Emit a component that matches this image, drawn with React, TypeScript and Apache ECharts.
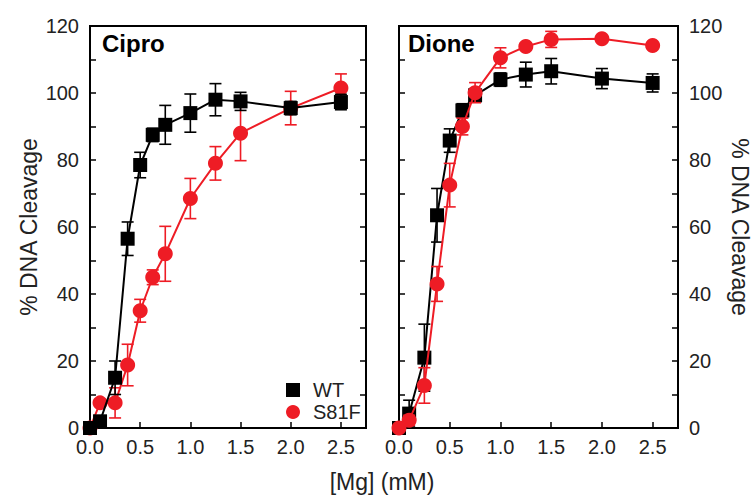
import React, { useEffect, useRef } from 'react';
import * as echarts from 'echarts';

const mgConc = [0, 0.1, 0.25, 0.375, 0.5, 0.625, 0.75, 1.0, 1.25, 1.5, 2.0, 2.5];

const ciproWT = [0, 2, 15, 56.5, 78.5, 87.5, 90.5, 94, 98, 97.5, 95.5, 97.3];
const ciproWTErr = [0, 1.5, 5, 5, 3.8, 2, 5.8, 5.7, 4.8, 2.7, 2, 2.3];
const ciproS81F = [0, 7.5, 7.5, 18.8, 35, 45, 52, 68.5, 79, 88, 95.5, 101.5];
const ciproS81FErr = [0, 1, 4.5, 6.2, 3.4, 2.2, 8.2, 6, 5, 8.2, 5, 4.2];

const dioneWT = [0, 4.3, 21, 63.5, 85.8, 94.8, 99.3, 104, 105.5, 106.5, 104.3, 103];
const dioneWTErr = [0, 4, 10, 8, 3.5, 2, 2, 2, 3.7, 3.8, 3, 2.7];
const dioneS81F = [0, 2.3, 12.7, 43, 72.5, 90, 100.1, 110.5, 113.9, 116, 116.2, 114.2];
const dioneS81FErr = [0, 1.5, 5.3, 5.2, 6.5, 2.5, 3, 3, 1, 2.4, 0.5, 0.5];

const xTicks = [0, 0.5, 1.0, 1.5, 2.0, 2.5];
const yTicks = [0, 20, 40, 60, 80, 100, 120];

const panelNames = ['Cipro', 'Dione'];
const seriesNames = ['WT', 'S81F'];
const yTitle = '% DNA Cleavage';
const xTitle = '[Mg] (mM)';

const RED = '#ee1c25';
const BLACK = '#000000';
const FONT = '"Liberation Sans", Arial, Helvetica, sans-serif';

function pts(vals: number[]) {
  return mgConc.map((x, i) => [x, vals[i]]);
}
function errPts(vals: number[], errs: number[]) {
  return mgConc
    .map((x, i) => [x, vals[i] - errs[i], vals[i] + errs[i], errs[i]])
    .filter((d) => d[3] > 0);
}

function errRender(color: string) {
  return (params: any, api: any) => {
    const x = api.value(0);
    const lo = api.value(1);
    const hi = api.value(2);
    const pLo = api.coord([x, lo]);
    const pHi = api.coord([x, hi]);
    const w = 6;
    const style = { stroke: color, lineWidth: 1.6 };
    return {
      type: 'group',
      children: [
        { type: 'line', shape: { x1: pLo[0], y1: pLo[1], x2: pHi[0], y2: pHi[1] }, style },
        { type: 'line', shape: { x1: pLo[0] - w, y1: pLo[1], x2: pLo[0] + w, y2: pLo[1] }, style },
        { type: 'line', shape: { x1: pHi[0] - w, y1: pHi[1], x2: pHi[0] + w, y2: pHi[1] }, style },
      ],
    };
  };
}

const xFmt = (v: number) => (xTicks.some((t) => Math.abs(t - v) < 1e-6) ? v.toFixed(1) : '');
const yFmt = (v: number) => (yTicks.some((t) => Math.abs(t - v) < 1e-6) ? String(v) : '');

function xAxisDef(gridIndex: number) {
  return {
    type: 'value',
    gridIndex,
    min: 0,
    max: 2.75,
    interval: 0.5,
    axisLine: { show: true, lineStyle: { color: BLACK, width: 2 } },
    axisTick: { show: true, inside: true, length: 6, lineStyle: { color: BLACK, width: 1.5 } },
    axisLabel: { formatter: xFmt, color: '#222', fontSize: 20, fontFamily: FONT, margin: 9, showMaxLabel: false },
    splitLine: { show: false },
  };
}

function yAxisDef(gridIndex: number, position: 'left' | 'right', labels: boolean) {
  return {
    type: 'value',
    gridIndex,
    position,
    min: 0,
    max: 120,
    interval: 10,
    name: labels ? yTitle : '',
    nameLocation: 'middle',
    nameGap: 50,
    nameRotate: position === 'right' ? -90 : 90,
    nameTextStyle: { fontSize: 23, fontFamily: FONT, color: '#222' },
    axisLine: { show: true, onZero: false, lineStyle: { color: BLACK, width: 2 } },
    axisTick: { show: true, inside: true, length: 6, lineStyle: { color: BLACK, width: 1.5 } },
    axisLabel: { show: labels, formatter: yFmt, color: '#222', fontSize: 20, fontFamily: FONT, margin: 11 },
    splitLine: { show: false },
  };
}

function lineSeries(name: string, vals: number[], xi: number, yi: number, color: string, symbol: string, size: number, z: number) {
  return {
    type: 'line',
    name,
    xAxisIndex: xi,
    yAxisIndex: yi,
    data: pts(vals),
    symbol,
    symbolSize: size,
    showSymbol: true,
    color,
    lineStyle: { color, width: 2 },
    itemStyle: { color, borderWidth: 0 },
    z,
  };
}

function errSeries(name: string, vals: number[], errs: number[], xi: number, yi: number, color: string, z: number) {
  return {
    type: 'custom',
    name,
    xAxisIndex: xi,
    yAxisIndex: yi,
    data: errPts(vals, errs),
    renderItem: errRender(color),
    encode: { x: 0, y: [1, 2] },
    color,
    itemStyle: { color },
    clip: false,
    z,
  };
}

export default function App() {
  const ref = useRef<HTMLDivElement>(null);
  useEffect(() => {
    document.body.style.margin = '0';
    if (!ref.current) return;
    const chart = echarts.init(ref.current, undefined, { renderer: 'svg' });
    const option: any = {
      animation: false,
      backgroundColor: '#ffffff',
      grid: [
        { left: 90, top: 26, width: 276, height: 402, show: true, borderColor: BLACK, borderWidth: 2, backgroundColor: 'transparent' },
        { left: 399, top: 26, width: 279, height: 402, show: true, borderColor: BLACK, borderWidth: 2, backgroundColor: 'transparent' },
      ],
      xAxis: [xAxisDef(0), xAxisDef(1)],
      yAxis: [
        yAxisDef(0, 'left', true),
        yAxisDef(0, 'right', false),
        yAxisDef(1, 'right', true),
        yAxisDef(1, 'left', false),
      ],
      legend: {
        orient: 'vertical',
        left: 281,
        top: 375,
        itemWidth: 14,
        itemHeight: 14,
        itemGap: 2,
        textStyle: { fontSize: 20, fontFamily: FONT, color: '#222', lineHeight: 20, padding: [0, 0, 0, 8] },
        data: [
          { name: seriesNames[0], icon: 'rect', itemStyle: { color: BLACK } },
          { name: seriesNames[1], icon: 'circle', itemStyle: { color: RED } },
        ],
      },
      graphic: [
        { type: 'text', left: 102, top: 31, style: { text: panelNames[0], font: `bold 24px ${FONT}`, fill: BLACK } },
        { type: 'text', left: 408, top: 31, style: { text: panelNames[1], font: `bold 24px ${FONT}`, fill: BLACK } },
        { type: 'text', x: 382, y: 482, style: { text: xTitle, font: `23px ${FONT}`, fill: '#222', textAlign: 'center', textVerticalAlign: 'middle' } },
      ],
      series: [
        // Cipro panel: red below, black on top
        errSeries(seriesNames[1], ciproS81F, ciproS81FErr, 0, 0, RED, 2),
        lineSeries(seriesNames[1], ciproS81F, 0, 0, RED, 'circle', 15, 3),
        errSeries(seriesNames[0], ciproWT, ciproWTErr, 0, 0, BLACK, 4),
        lineSeries(seriesNames[0], ciproWT, 0, 0, BLACK, 'rect', 14, 5),
        // Dione panel: black below, red on top
        errSeries(seriesNames[0], dioneWT, dioneWTErr, 1, 2, BLACK, 2),
        lineSeries(seriesNames[0], dioneWT, 1, 2, BLACK, 'rect', 14, 3),
        errSeries(seriesNames[1], dioneS81F, dioneS81FErr, 1, 2, RED, 4),
        lineSeries(seriesNames[1], dioneS81F, 1, 2, RED, 'circle', 15, 5),
      ],
    };
    chart.setOption(option);
    return () => chart.dispose();
  }, []);
  return <div ref={ref} style={{ width: 753, height: 497 }} />;
}
